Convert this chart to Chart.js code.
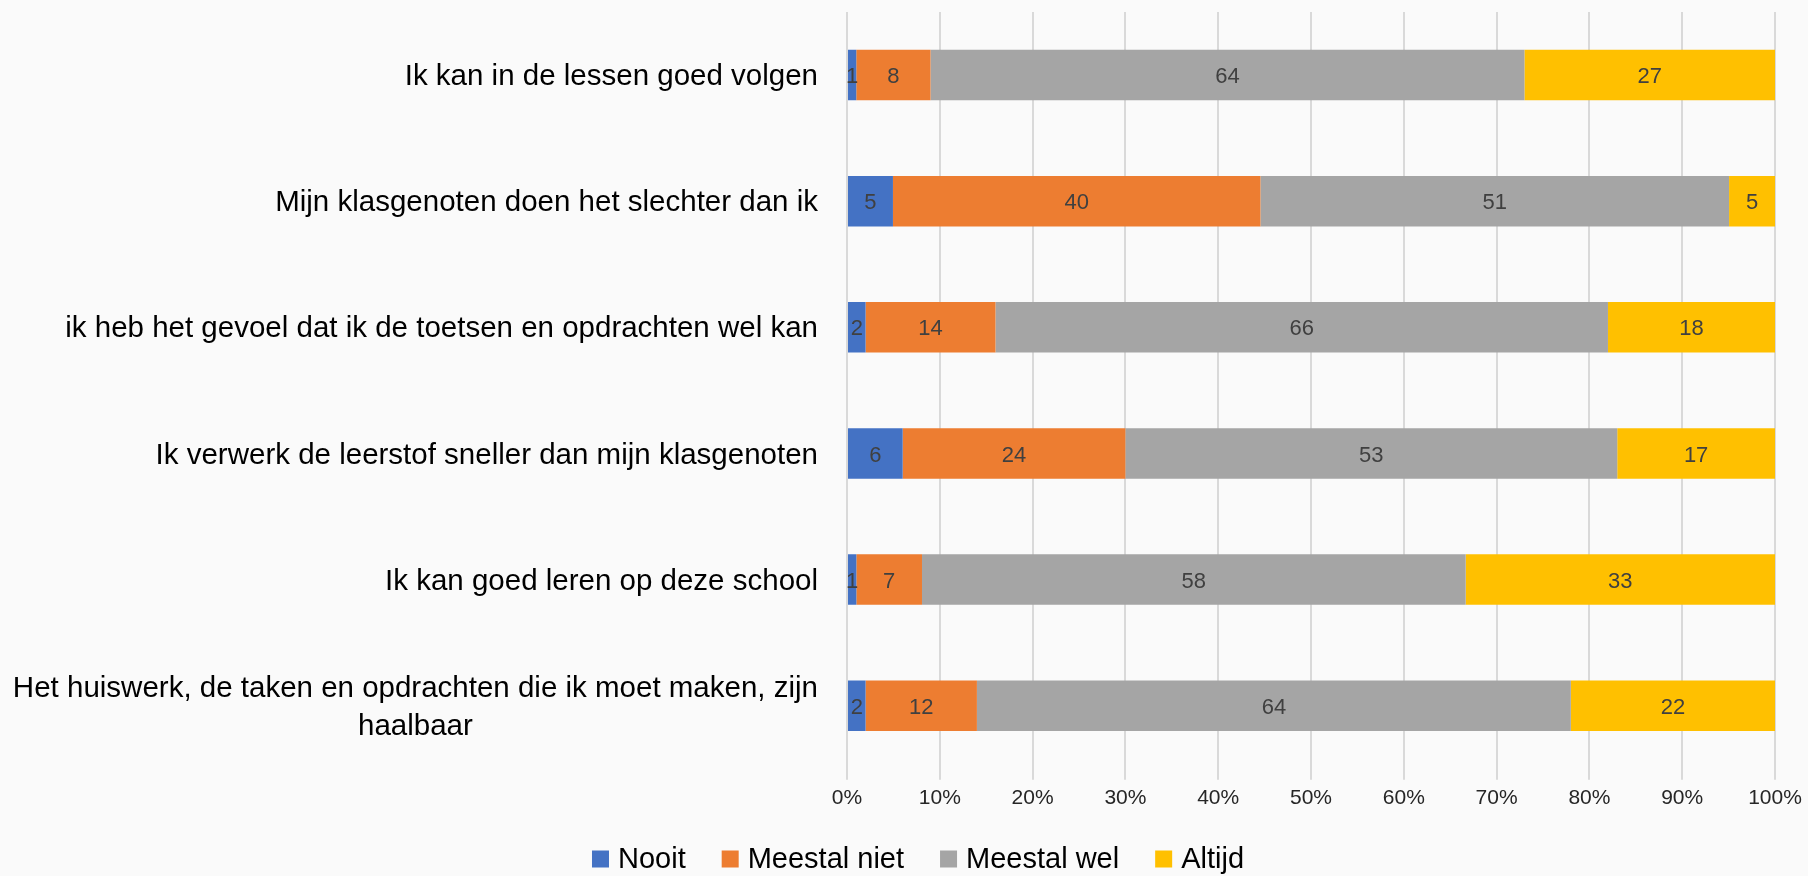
<!DOCTYPE html>
<html>
<head>
<meta charset="utf-8">
<script src="https://cdn.jsdelivr.net/npm/chart.js@4/dist/chart.umd.min.js"></script>
<style>
  html, body { margin: 0; padding: 0; background: #fafafa; }
  #wrap { width: 1808px; height: 876px; }
</style>
</head>
<body>
<div id="wrap"><canvas id="barChart" width="1808" height="876"></canvas></div>
<script>
// Stacked 100% horizontal bars, labels show the raw answers

const categories = [
    'Ik kan in de lessen goed volgen',
    'Mijn klasgenoten doen het slechter dan ik',
    'ik heb het gevoel dat ik de toetsen en opdrachten wel kan',
    'Ik verwerk de leerstof sneller dan mijn klasgenoten',
    'Ik kan goed leren op deze school',
    ['Het huiswerk, de taken en opdrachten die ik moet maken, zijn', 'haalbaar']
];

const seriesNames = ['Nooit', 'Meestal niet', 'Meestal wel', 'Altijd'];
const nooit = [1, 5, 2, 6, 1, 2];
const meestalNiet = [8, 40, 14, 24, 7, 12];
const meestalWel = [64, 51, 66, 53, 58, 64];
const altijd = [27, 5, 18, 17, 33, 22];
const tickLabels = ['0%', '10%', '20%', '30%', '40%', '50%', '60%', '70%', '80%', '90%', '100%'];

const colors = ['#4472C4', '#ED7D31', '#A5A5A5', '#FFC000'];
const rawSeries = [nooit, meestalNiet, meestalWel, altijd];

// row totals, so each bar fills 100%
const totals = categories.map((c, i) => rawSeries.reduce((s, arr) => s + arr[i], 0));

const datasets = rawSeries.map((arr, k) => ({
    label: seriesNames[k],
    data: arr.map((v, i) => v / totals[i] * 100),
    raw: arr,
    backgroundColor: colors[k],
    borderWidth: 0,
    barPercentage: 0.4,
    categoryPercentage: 1.0
}));

const FONT = '"Liberation Sans", Arial, sans-serif';

// draw the values in the middle of each segment
const valueLabels = {
    id: 'valueLabels',
    afterDatasetsDraw(chart) {
        const ctx = chart.ctx;
        ctx.save();
        ctx.font = '22px ' + FONT;
        ctx.fillStyle = '#404040';
        ctx.textAlign = 'center';
        ctx.textBaseline = 'middle';
        chart.data.datasets.forEach((ds, k) => {
            chart.getDatasetMeta(k).data.forEach((bar, i) => {
                const x = (bar.x + bar.base) / 2;
                ctx.fillText(String(ds.raw[i]), x, bar.y + 2);
            });
        });
        ctx.restore();
    }
};

// category labels on the left, right aligned block with centred lines
const categoryLabels = {
    id: 'categoryLabels',
    afterDraw(chart) {
        const ctx = chart.ctx;
        const yScale = chart.scales.y;
        const right = chart.chartArea.left - 29;
        const lineH = 38;
        ctx.save();
        ctx.font = '29.5px ' + FONT;
        ctx.fillStyle = '#000000';
        ctx.textBaseline = 'middle';
        ctx.textAlign = 'center';
        categories.forEach((lab, i) => {
            const y = yScale.getPixelForTick(i) + 2;
            const lines = Array.isArray(lab) ? lab : [lab];
            const maxW = Math.max(...lines.map(l => ctx.measureText(l).width));
            const cx = right - maxW / 2;
            lines.forEach((l, j) => {
                const ly = y + (j - (lines.length - 1) / 2) * lineH;
                ctx.fillText(l, cx, ly);
            });
        });
        ctx.restore();
    }
};

// legend row under the axis, centred on the page
const bottomLegend = {
    id: 'bottomLegend',
    afterDraw(chart) {
        const ctx = chart.ctx;
        const box = 17, gap = 9, spacing = 36;
        const y = 859;
        ctx.save();
        ctx.font = '29px ' + FONT;
        ctx.textBaseline = 'middle';
        ctx.textAlign = 'left';
        const widths = seriesNames.map(n => box + gap + ctx.measureText(n).width);
        const total = widths.reduce((a, b) => a + b, 0) + spacing * (widths.length - 1);
        let x = 585 + (666 - total) / 2;
        seriesNames.forEach((n, k) => {
            ctx.fillStyle = colors[k];
            ctx.fillRect(x, y - box / 2, box, box);
            ctx.fillStyle = '#000000';
            ctx.fillText(n, x + box + gap, y + 1);
            x += widths[k] + spacing;
        });
        ctx.restore();
    }
};

const ctx = document.getElementById('barChart').getContext('2d');
const barChart = new Chart(ctx, {
    type: 'bar',
    data: {
        labels: categories,
        datasets
    },
    options: {
        indexAxis: 'y',
        responsive: false,
        animation: false,
        layout: {
            padding: { left: 847, right: 33, top: 12, bottom: 59 }
        },
        plugins: {
            legend: { display: false },
            tooltip: { enabled: false }
        },
        scales: {
            x: {
                stacked: true,
                min: 0,
                max: 100,
                border: { display: false },
                grid: {
                    color: '#d9d9d9',
                    lineWidth: 2,
                    tickLength: 11
                },
                ticks: {
                    stepSize: 10,
                    padding: 6,
                    color: '#262626',
                    font: { size: 21, family: FONT },
                    callback: (v, i) => tickLabels[i]
                }
            },
            y: {
                stacked: true,
                display: false
            }
        }
    },
    plugins: [valueLabels, categoryLabels, bottomLegend]
});
</script>
</body>
</html>
